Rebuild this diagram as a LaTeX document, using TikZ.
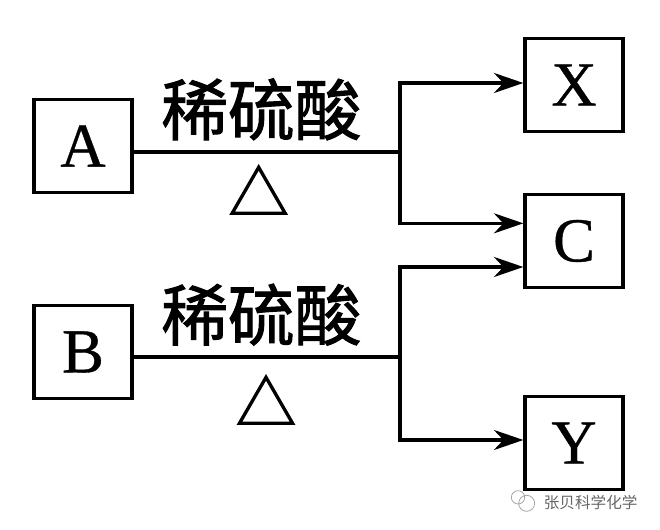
\documentclass[tikz,border=0pt]{standalone}
\usepackage{fontspec}
\setmainfont[FakeBold=0.6]{Liberation Serif}
\newfontfamily\cjk{Noto Sans CJK SC}
\newfontfamily\cjkheavy[FakeBold=1.5]{Noto Sans CJK SC}
\usetikzlibrary{shapes.geometric,arrows.meta}
\tikzset{
  letterbox/.style={draw, line width=2.5pt, minimum width=73.5pt, minimum height=69.75pt, font=\fontsize{47}{47}\selectfont, inner sep=0pt},
  acid/.style={font=\cjkheavy\fontsize{50}{50}\selectfont, inner sep=0pt},
  heat/.style={draw, regular polygon, regular polygon sides=3, line width=2.5pt, minimum size=46pt, inner sep=0pt},
  arrowline/.style={line width=2.5pt, -{Stealth[length=22pt,width=15pt,inset=7pt]}},
  plainline/.style={line width=2.4pt},
  bubble/.style={draw=black!35, circle, line width=0.6pt, inner sep=0pt}
}
\begin{document}
\begin{tikzpicture}[x=1pt,y=-1pt]
\useasboundingbox (0,0) rectangle (495,397.5);
% boxes
\node[letterbox] (A) at (62.25,109.5) {A};
\node[letterbox] (B) at (62.25,264) {B};
\node[letterbox] (X) at (430.5,63.75) {X};
\node[letterbox] (C) at (430.5,180.75) {C};
\node[letterbox] (Y) at (430.5,332.25) {Y};
% upper reaction
\node[acid] (acidA) at (196,82) {稀硫酸};
\node[heat] (heatA) at (194,148.5) {};
\coordinate (forkA) at (300,114);
\coordinate (upA) at (300,62.25);
\coordinate (downA) at (300,167.5);
\draw[plainline] (A.east |- forkA) -- (forkA);
\draw[arrowline] (forkA) -- (upA) -- (upA -| X.west);
\draw[arrowline] (forkA) -- (downA) -- (downA -| C.west);
% lower reaction
\node[acid] (acidB) at (196,236) {稀硫酸};
\node[heat] (heatB) at (199.5,306) {};
\coordinate (forkB) at (300,267.75);
\coordinate (upB) at (300,200.25);
\coordinate (downB) at (300,330);
\draw[plainline] (B.east |- forkB) -- (forkB);
\draw[arrowline] (forkB) -- (upB) -- (upB -| C.west);
\draw[arrowline] (forkB) -- (downB) -- (downB -| Y.west);
% watermark
\node[bubble, minimum size=10pt] (bubbleS) at (388.5,373) {};
\node[bubble, minimum size=12pt] (bubbleL) at (395,377.5) {};
\node[font=\cjk\fontsize{11.7}{11.7}\selectfont, text=black!60, inner sep=0pt] (mark) at (443,377) {张贝科学化学};
\end{tikzpicture}
\end{document}
